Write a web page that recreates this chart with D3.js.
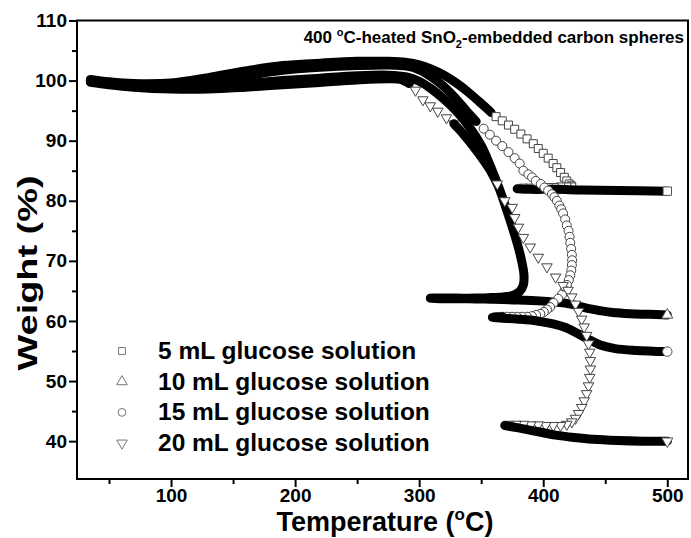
<!DOCTYPE html>
<html>
<head>
<meta charset="UTF-8">
<title></title>
<script src="https://cdn.jsdelivr.net/npm/d3@7"></script>
<style>
body{margin:0;background:#fff;}
text{font-family:'Liberation Sans',Arial,sans-serif;font-weight:bold;fill:#000;}
</style>
</head>
<body>
<svg id="tu" width="691" height="538"></svg>
<script>
// series names (legend)
var names=['5 mL glucose solution','10 mL glucose solution','15 mL glucose solution','20 mL glucose solution'];
var xTicks=[100,200,300,400,500];
var yTicks=[40,50,60,70,80,90,100,110];

// 5 mL (squares)
var t5=[35,50,70,100,130,160,190,220,250,275,290,300,310,320,330,340,350,358,
        362,367,372,377,382,387,392,396,400,404,408,411,414,417,419,421,422.5,423,
        419,414,409,404,399,394,389,384,
        379,390,410,430,460,500];
var w5=[100.2,99.8,99.5,99.6,100.5,101.6,102.5,102.9,103.2,103.2,103.0,102.6,101.9,100.9,99.6,98.0,96.2,94.7,
        94.0,93.3,92.6,91.9,91.1,90.3,89.5,88.7,87.9,87.1,86.2,85.5,84.7,83.9,83.3,82.8,82.5,82.3,
        82.3,82.3,82.2,82.2,82.2,82.1,82.1,82.1,
        82.0,81.9,81.9,81.8,81.7,81.6];
// 10 mL (up triangles)
var t10=[35,50,70,100,130,160,190,220,250,275,290,300,310,320,330,340,350,357,365,371,376,380,383,384.5,384,381,376,368,358,345,330,318,309,
         320,340,360,380,400,412,422,430,438,446,456,470,485,500];
var w10=[99.9,99.5,99.1,98.9,99.1,99.5,100.0,100.4,100.8,100.9,100.6,99.9,98.6,96.9,94.9,92.4,89.2,86.0,81.8,78.2,75.0,72.2,69.6,67.6,66.0,64.9,64.3,64.0,63.9,63.8,63.8,63.8,63.8,
         63.7,63.7,63.6,63.5,63.3,63.1,62.8,62.4,62.0,61.7,61.4,61.2,61.1,61.0];
// 15 mL (circles)
var t15=[35,50,70,100,130,160,190,220,250,275,290,300,310,320,330,338,346,
         352,357,362,367,372,377,381,384,388,391,394,398,401,404,407,409,411,413,414.5,416,417.7,419,420.4,421.2,421.8,422.5,423.1,423.3,423.1,422.6,421.8,420.6,419.1,417.3,415.1,412,408.3,405.5,403,400.5,397.6,394.3,390.9,387,382.8,378.8,374.8,371,
         367,362,359,365,380,395,408,418,427,436,446,458,475,500];
var w15=[100.0,99.6,99.2,99.2,99.8,100.8,101.7,102.2,102.5,102.6,102.4,101.8,100.6,99.0,96.9,95.0,93.2,
         92.0,91.0,90.0,89.1,88.1,87.1,86.2,85.0,84.4,83.9,83.3,82.8,82.2,81.7,81.1,80.6,80.0,79.2,78.6,77.9,76.9,75.9,75.0,74.0,73.0,72.0,71.0,70.1,69.3,68.4,67.6,66.8,66.0,65.1,64.4,63.7,63.0,62.3,61.9,61.5,61.2,61.0,60.8,60.7,60.7,60.7,60.7,60.7,
         60.7,60.7,60.6,60.5,60.3,60.0,59.5,58.9,58.0,57.0,56.0,55.4,55.1,54.9];
// 20 mL (down triangles)
var t20=[35,50,70,100,130,160,190,220,250,275,285,292,
         297,303,309,315,322,328,334,340,346,352,358,363,369,375,377,380,384,389.5,396,403,410,416,420,423,426,428.5,431,433,435,436.5,437.5,438,438,437.5,436.5,435,433,431,428.5,426,423,419,414,408,402,396,390,384,378,372,
         369,380,395,410,425,440,460,480,500];
var w20=[99.7,99.3,98.9,98.6,98.6,98.9,99.3,99.7,100.1,100.3,100.2,99.5,
         98.4,96.8,95.8,94.9,93.8,92.8,91.5,90.0,88.4,86.7,84.8,82.8,80.0,78.9,77.2,75.6,73.9,72.3,70.6,69.0,67.3,65.9,65.1,64.0,62.8,61.6,60.3,59.0,57.6,56.2,54.8,53.4,52.0,50.6,49.2,47.9,46.7,45.6,44.6,43.8,43.2,42.8,42.6,42.6,42.6,42.7,42.7,42.8,42.8,42.8,
         42.6,42.2,41.6,41.0,40.6,40.3,40.1,40.0,40.0];

// how each trace is drawn: dense parts as a solid band, sparse parts as open markers
var series=[
    {t:t5, w:w5, sym:d3.symbolSquare, rot:0, size:64, segs:[['line',0,18],['mark',18,44],['line',44,50]]},
    {t:t10,w:w10,sym:d3.symbolTriangle,rot:0, size:48, segs:[['line',0,47]]},
    {t:t15,w:w15,sym:d3.symbolCircle, rot:0, size:64, segs:[['line',0,17],['mark',17,66],['line',65,79]]},
    {t:t20,w:w20,sym:d3.symbolTriangle,rot:180,size:48, segs:[['line',0,12],['mark',12,18],['line',17,24],['mark',23,62],['line',62,71]]}
];

var svg=d3.select('#tu');
var x=d3.scaleLinear().domain([24.2,516.7]).range([77,688]);
var y=d3.scaleLinear().domain([33.7,110]).range([479,20.5]);

var line=d3.line()
    .x(function(d){return x(d[0])})
    .y(function(d){return y(d[1])})
    .curve(d3.curveCatmullRom);

var plot=svg.append('g');
series.forEach(function(s){
    var pts=s.t.map(function(v,i){return [v,s.w[i]]});
    s.segs.forEach(function(g){
        var part=pts.slice(g[1],g[2]);
        if(g[0]=='line'){
            plot.append('path')
                .attr('d',line(part))
                .attr('fill','none')
                .attr('stroke','#000')
                .attr('stroke-width',9)
                .attr('stroke-linejoin','round')
                .attr('stroke-linecap','round');
        }else{
            plot.selectAll(null).data(part).enter()
                .append('path')
                .attr('d',d3.symbol().type(s.sym).size(s.size))
                .attr('transform',function(d){return 'translate('+x(d[0])+','+y(d[1])+') rotate('+s.rot+')'})
                .attr('fill','#fff')
                .attr('stroke','#444')
                .attr('stroke-width',1);
        }
    });
    // end marker
    var last=pts[pts.length-1];
    plot.append('path')
        .attr('d',d3.symbol().type(s.sym).size(s.size*1.1))
        .attr('transform','translate('+x(last[0])+','+y(last[1])+') rotate('+s.rot+')')
        .attr('fill','#fff')
        .attr('stroke','#555')
        .attr('stroke-width',1);
});

// frame
svg.append('rect')
    .attr('x',77).attr('y',20.5)
    .attr('width',611).attr('height',458.5)
    .attr('fill','none').attr('stroke','#000').attr('stroke-width',2);

// axes
svg.append('g').attr('transform','translate(0,479)')
    .call(d3.axisBottom(x).tickValues(xTicks).tickSize(8).tickSizeOuter(0).tickPadding(2));
svg.append('g').attr('transform','translate(0,479)')
    .call(d3.axisBottom(x).tickValues([50,150,250,350,450]).tickSize(5).tickFormat(''));
svg.append('g').attr('transform','translate(77,0)')
    .call(d3.axisLeft(y).tickValues(yTicks).tickSize(8).tickSizeOuter(0).tickPadding(2));
svg.append('g').attr('transform','translate(77,0)')
    .call(d3.axisLeft(y).tickValues([45,55,65,75,85,95,105]).tickSize(5).tickFormat(''));
svg.selectAll('.domain').remove();
svg.selectAll('.tick line').attr('stroke','#000').attr('stroke-width',2);
svg.selectAll('.tick text').style('font-size','19px').attr('fill','#000');

// axis titles
var xt=svg.append('text').attr('x',385).attr('y',531).attr('text-anchor','middle').style('font-size','27px');
xt.append('tspan').text('Temperature (');
xt.append('tspan').attr('dy',-11).style('font-size','17px').text('o');
xt.append('tspan').attr('dy',11).text('C)');

svg.append('text')
    .attr('transform','translate(37,273) rotate(-90)')
    .attr('text-anchor','middle')
    .attr('textLength',195)
    .attr('lengthAdjust','spacingAndGlyphs')
    .style('font-size','27px')
    .text('Weight (%)');

// title
var tt=svg.append('text').attr('x',684).attr('y',43).attr('text-anchor','end').style('font-size','17px');
tt.append('tspan').text('400 ');
tt.append('tspan').attr('dy',-7).style('font-size','11px').text('o');
tt.append('tspan').attr('dy',7).text('C-heated SnO');
tt.append('tspan').attr('dy',5).style('font-size','11px').text('2');
tt.append('tspan').attr('dy',-5).text('-embedded carbon spheres');

// legend
var lsym=[[d3.symbolSquare,0],[d3.symbolTriangle,0],[d3.symbolCircle,0],[d3.symbolTriangle,180]];
var lg=svg.append('g');
names.forEach(function(n,i){
    var yy=351+i*30.7;
    lg.append('path')
        .attr('d',d3.symbol().type(lsym[i][0]).size(48))
        .attr('transform','translate(122,'+yy+') rotate('+lsym[i][1]+')')
        .attr('fill','#fff').attr('stroke','#777').attr('stroke-width',1);
    lg.append('text').attr('x',158).attr('y',yy+8).style('font-size','24.5px').text(n);
});
</script>
</body>
</html>
